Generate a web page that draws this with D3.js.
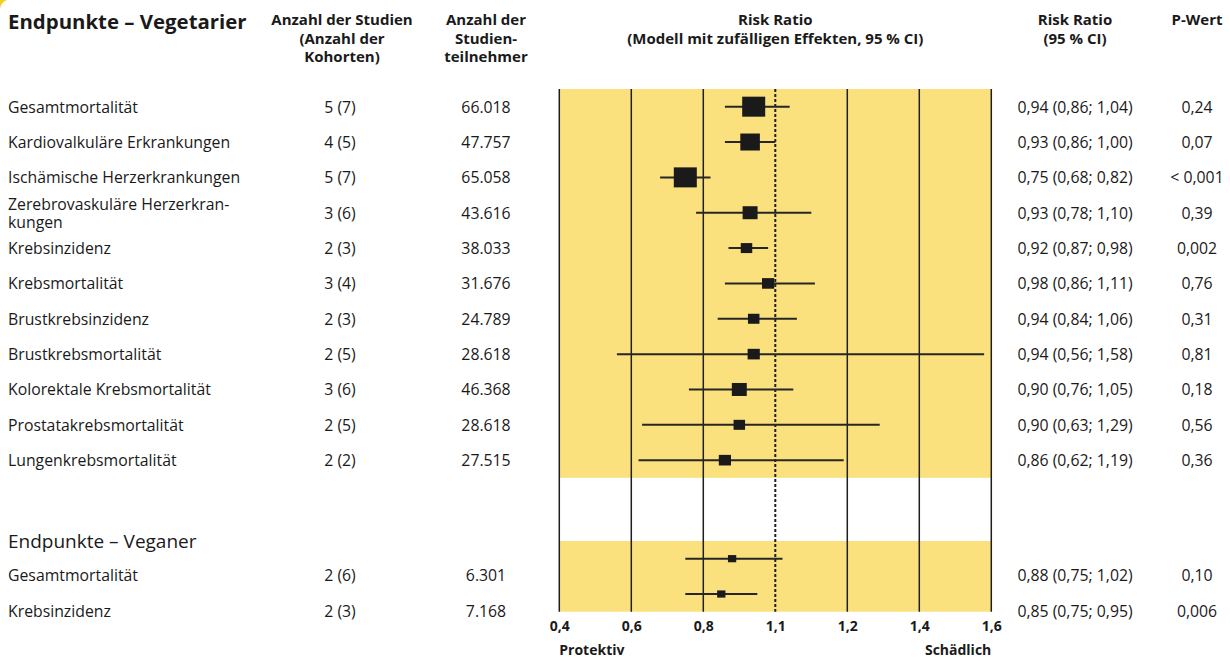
<!DOCTYPE html>
<html>
<head>
<meta charset="utf-8">
<script src="https://cdn.jsdelivr.net/npm/d3@7"></script>
<style>
  body { margin: 0; background: #fff; }
  svg text { font-family: "Open Sans", sans-serif; fill: #1a1a1a; }
  .head { font-weight: 700; font-size: 15px; }
</style>
</head>
<body>
<div id="chart"></div>
<script>
// rows of the forest plot, vegetarians first, then vegans
var vegLabels = ["Gesamtmortalität", "Kardiovalkuläre Erkrankungen", "Ischämische Herzerkrankungen",
    "Zerebrovaskuläre Herzerkran-|kungen", "Krebsinzidenz", "Krebsmortalität", "Brustkrebsinzidenz",
    "Brustkrebsmortalität", "Kolorektale Krebsmortalität", "Prostatakrebsmortalität", "Lungenkrebsmortalität"];
var vegStudies = ["5 (7)", "4 (5)", "5 (7)", "3 (6)", "2 (3)", "3 (4)", "2 (3)", "2 (5)", "3 (6)", "2 (5)", "2 (2)"];
var vegParticipants = ["66.018", "47.757", "65.058", "43.616", "38.033", "31.676", "24.789", "28.618", "46.368", "28.618", "27.515"];
var vegRR = [0.94, 0.93, 0.75, 0.93, 0.92, 0.98, 0.94, 0.94, 0.90, 0.90, 0.86];
var vegLower = [0.86, 0.86, 0.68, 0.78, 0.87, 0.86, 0.84, 0.56, 0.76, 0.63, 0.62];
var vegUpper = [1.04, 1.00, 0.82, 1.10, 0.98, 1.11, 1.06, 1.58, 1.05, 1.29, 1.19];
var vegP = ["0,24", "0,07", "< 0,001", "0,39", "0,002", "0,76", "0,31", "0,81", "0,18", "0,56", "0,36"];
var vegWeight = [100, 85, 100, 65, 50, 53, 50, 53, 65, 50, 53];

var veganLabels = ["Gesamtmortalität", "Krebsinzidenz"];
var veganStudies = ["2 (6)", "2 (3)"];
var veganParticipants = ["6.301", "7.168"];
var veganRR = [0.88, 0.85];
var veganLower = [0.75, 0.75];
var veganUpper = [1.02, 0.95];
var veganP = ["0,10", "0,006"];
var veganWeight = [36, 36];

// axis ticks, the reference labels the reference line "1,1"
var tickValues = [0.4, 0.6, 0.8, 1.0, 1.2, 1.4, 1.6];
var tickLabels = ["0,4", "0,6", "0,8", "1,1", "1,2", "1,4", "1,6"];

var width = 1230, height = 661;
var rowH = 35.35;
var band1Top = 89, band2Top = 541;
var colStudies = 340, colPart = 486, colRR = 1075, colP = 1197;

var svg = d3.select("#chart").append("svg")
    .attr("width", width)
    .attr("height", height);

var x = d3.scaleLinear().domain([0.4, 1.6]).range([559.3, 991.3]);
var size = d3.scaleLinear().domain([0, 100]).range([0, 20]);
var fmt = d3.format(".2f");
function de(v) { return fmt(v).replace(".", ","); }

function makeRows(labels, studies, part, rr, lo, hi, p, w, top, textShift) {
    return labels.map(function (d, i) {
        return { label: d, studies: studies[i], part: part[i], rr: rr[i], lo: lo[i], hi: hi[i],
            p: p[i], w: w[i], y: top + rowH * (i + 0.5), ty: top + rowH * (i + 0.5) + textShift };
    });
}
var rowsVeg = makeRows(vegLabels, vegStudies, vegParticipants, vegRR, vegLower, vegUpper, vegP, vegWeight, band1Top, 0);
var rowsVegan = makeRows(veganLabels, veganStudies, veganParticipants, veganRR, veganLower, veganUpper, veganP, veganWeight, band2Top, 16.5);
var rows = rowsVeg.concat(rowsVegan);

// little yellow corner mark
svg.append("path")
    .attr("d", "M0,9 Q1,2 7,0 L0,0 Z")
    .attr("fill", "#f6cf1e");

// yellow bands
var bandBottom = band2Top + rowH * rowsVegan.length;
svg.append("rect").attr("x", x(0.4)).attr("y", band1Top)
    .attr("width", x(1.6) - x(0.4)).attr("height", rowH * rowsVeg.length)
    .attr("fill", "#fae17e");
svg.append("rect").attr("x", x(0.4)).attr("y", band2Top)
    .attr("width", x(1.6) - x(0.4)).attr("height", rowH * rowsVegan.length)
    .attr("fill", "#fae17e");

// grid lines
svg.append("g").selectAll("line")
    .data(tickValues.filter(function (d) { return d !== 1.0; }))
    .enter().append("line")
    .attr("x1", function (d) { return x(d); })
    .attr("x2", function (d) { return x(d); })
    .attr("y1", band1Top).attr("y2", bandBottom)
    .attr("stroke", "#1e1e1e")
    .attr("stroke-width", 1.5);

// reference line
svg.append("line")
    .attr("x1", x(1.0)).attr("x2", x(1.0))
    .attr("y1", band1Top).attr("y2", bandBottom)
    .attr("stroke", "#1e1e1e")
    .attr("stroke-width", 2)
    .attr("stroke-dasharray", "3,2");

// confidence intervals
svg.append("g").selectAll("line")
    .data(rows)
    .enter().append("line")
    .attr("x1", function (d) { return x(d.lo); })
    .attr("x2", function (d) { return x(d.hi); })
    .attr("y1", function (d) { return d.y; })
    .attr("y2", function (d) { return d.y; })
    .attr("stroke", "#262626")
    .attr("stroke-width", 2);

// point estimates
svg.append("g").selectAll("rect")
    .data(rows)
    .enter().append("rect")
    .attr("x", function (d) { return x(d.rr) - size(d.w) * 0.575; })
    .attr("y", function (d) { return d.y - size(d.w) / 2; })
    .attr("width", function (d) { return size(d.w) * 1.15; })
    .attr("height", function (d) { return size(d.w); })
    .attr("fill", "#1a1a1a");

// axis
var axis = svg.append("g")
    .attr("transform", "translate(0," + bandBottom + ")")
    .call(d3.axisBottom(x).tickValues(tickValues)
        .tickFormat(function (d, i) { return tickLabels[i]; })
        .tickSize(0).tickPadding(9));
axis.select(".domain").remove();
axis.selectAll("text")
    .style("font-family", "'Open Sans', sans-serif")
    .style("font-size", "14px")
    .style("font-weight", "700")
    .attr("fill", "#1a1a1a");

svg.append("text").attr("class", "head")
    .style("font-size", "14px")
    .attr("x", x(0.4)).attr("y", 649).attr("dominant-baseline", "central")
    .text("Protektiv");
svg.append("text").attr("class", "head")
    .style("font-size", "14px")
    .attr("x", x(1.6)).attr("y", 649).attr("dominant-baseline", "central")
    .attr("text-anchor", "end")
    .text("Schädlich");

// headers
svg.append("text")
    .attr("x", 8).attr("y", 21).attr("dominant-baseline", "central")
    .style("font-size", "20.4px").style("font-weight", "700")
    .text("Endpunkte – Vegetarier");

function header(cx, lines) {
    var t = svg.append("text").attr("class", "head").attr("text-anchor", "middle");
    lines.forEach(function (l, i) {
        t.append("tspan").attr("x", cx).attr("y", 19 + i * 18.5)
            .attr("dominant-baseline", "central").text(l);
    });
}
header(342, ["Anzahl der Studien", "(Anzahl der", "Kohorten)"]);
header(colPart, ["Anzahl der", "Studien-", "teilnehmer"]);
header(x(1.0), ["Risk Ratio", "(Modell mit zufälligen Effekten, 95 % CI)"]);
header(colRR, ["Risk Ratio", "(95 % CI)"]);
header(colP, ["P-Wert"]);

svg.append("text")
    .attr("x", 8).attr("y", band2Top).attr("dominant-baseline", "central")
    .style("font-size", "19px")
    .text("Endpunkte – Veganer");

// table text
var body = svg.append("g").style("font-size", "15.8px");
rows.forEach(function (d) {
    var parts = d.label.split("|");
    var lt = body.append("text").attr("x", 8);
    parts.forEach(function (l, i) {
        lt.append("tspan").attr("x", 8)
            .attr("y", d.ty + (i - (parts.length - 1) / 2) * 18)
            .attr("dominant-baseline", "central").text(l);
    });
    body.append("text").attr("x", colStudies).attr("y", d.ty)
        .attr("text-anchor", "middle").attr("dominant-baseline", "central").text(d.studies);
    body.append("text").attr("x", colPart).attr("y", d.ty)
        .attr("text-anchor", "middle").attr("dominant-baseline", "central").text(d.part);
    body.append("text").attr("x", colRR).attr("y", d.ty)
        .attr("text-anchor", "middle").attr("dominant-baseline", "central")
        .text(de(d.rr) + " (" + de(d.lo) + "; " + de(d.hi) + ")");
    body.append("text").attr("x", colP).attr("y", d.ty)
        .attr("text-anchor", "middle").attr("dominant-baseline", "central").text(d.p);
});
</script>
</body>
</html>
